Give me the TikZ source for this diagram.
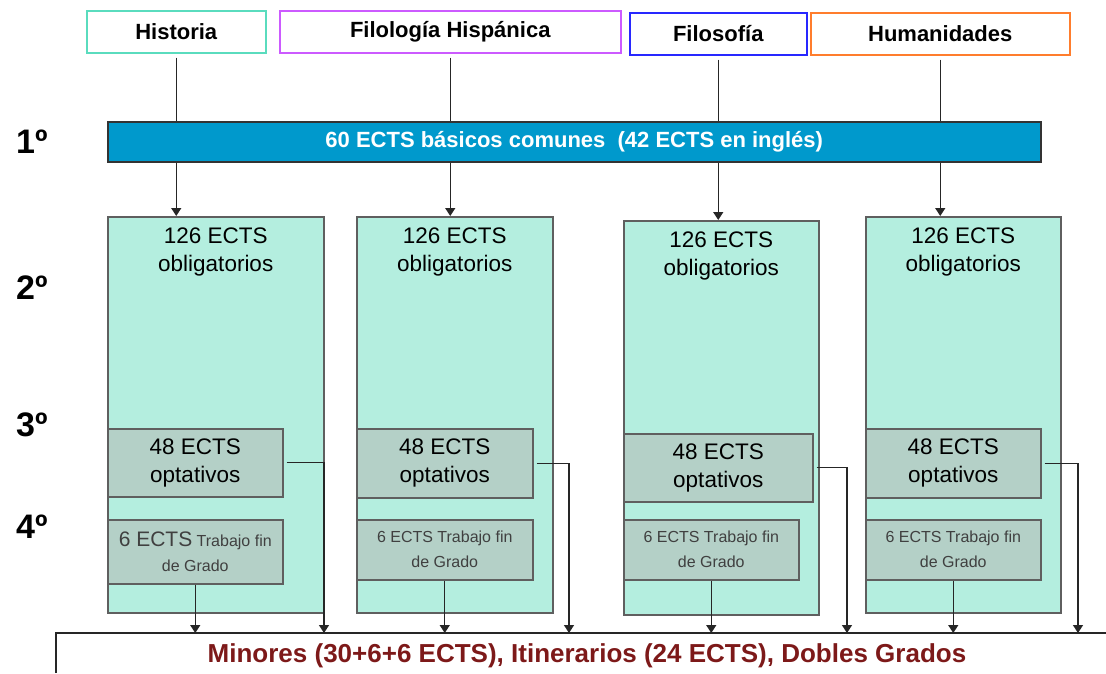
\documentclass[tikz,border=0pt]{standalone}
\usepackage{fontspec}
\setmainfont{Liberation Sans}
\usetikzlibrary{positioning}
\usetikzlibrary{arrows.meta}

\definecolor{barblue}{RGB}{0,153,204}
\definecolor{mint}{RGB}{180,238,223}
\definecolor{sage}{RGB}{180,208,199}
\definecolor{edgegray}{RGB}{95,95,95}
\definecolor{histline}{RGB}{90,220,190}
\definecolor{filolline}{RGB}{204,90,255}
\definecolor{filoline}{RGB}{40,40,255}
\definecolor{humline}{RGB}{255,125,45}
\definecolor{minred}{RGB}{125,25,25}

\begin{document}
\begin{tikzpicture}[x=1pt, y=-1pt,
  degree/.style={draw, line width=1.5pt, anchor=north west, inner sep=0pt, minimum height=42pt, font=\fontsize{22}{26}\selectfont\bfseries},
  year/.style={anchor=west, inner sep=0pt, font=\fontsize{34}{40}\selectfont\bfseries},
  column/.style={draw=edgegray, line width=1.5pt, fill=mint, anchor=north west, inner sep=0pt},
  oblig/.style={inner sep=0pt, align=center, font=\fontsize{22.5}{28}\selectfont},
  subject/.style={draw=edgegray, line width=1.5pt, fill=sage, anchor=north west, inner sep=0pt, align=center},
  optfont/.style={font=\fontsize{22.5}{28}\selectfont},
  tfgfont/.style={text=black!75, font=\fontsize{16}{25}\selectfont},
  link/.style={line width=1.4pt, color=black!85},
  arrow/.style={link, -{Triangle[length=8pt, width=10pt]}}
]
  \useasboundingbox (0,0) rectangle (1106,673);

  % degrees
  \node[degree, draw=histline, minimum width=179pt] (hist) at (86,10) {Historia};
  \node[degree, draw=filolline, minimum width=341pt] (filol) at (279,10) {Filología Hispánica};
  \node[degree, draw=filoline, minimum width=177pt] (filo) at (629,12) {Filosofía};
  \node[degree, draw=humline, minimum width=259pt] (hum) at (810,12) {Humanidades};

  % years
  \node[year] (y1) at (16,142) {1º};
  \node[year] (y2) at (16,288) {2º};
  \node[year] (y3) at (16,425) {3º};
  \node[year] (y4) at (16,527) {4º};

  \node[draw=black!80, line width=1.5pt, fill=barblue, anchor=north west, minimum width=933pt, minimum height=40pt,
    inner sep=0pt, text=white, font=\fontsize{22}{26}\selectfont\bfseries] (basic) at (107,121)
    {60 ECTS básicos comunes\ \ (42 ECTS en inglés)};

  % columns
  \node[column, minimum width=216pt, minimum height=396pt] (col1) at (107,216) {};
  \node[column, minimum width=196pt, minimum height=396pt] (col2) at (356,216) {};
  \node[column, minimum width=195pt, minimum height=394pt] (col3) at (623,220) {};
  \node[column, minimum width=195pt, minimum height=396pt] (col4) at (865,216) {};

  \node[oblig, below=12pt of col1.north] (ob1) {126 ECTS\\obligatorios};
  \node[oblig, below=12pt of col2.north] (ob2) {126 ECTS\\obligatorios};
  \node[oblig, below=12pt of col3.north] (ob3) {126 ECTS\\obligatorios};
  \node[oblig, below=12pt of col4.north] (ob4) {126 ECTS\\obligatorios};

  \node[subject, optfont, minimum width=175pt, minimum height=68pt] (opt1) at (107,428) {48 ECTS\\optativos};
  \node[subject, optfont, minimum width=176pt, minimum height=69pt] (opt2) at (356,428) {48 ECTS\\optativos};
  \node[subject, optfont, minimum width=189pt, minimum height=68pt] (opt3) at (623,433) {48 ECTS\\optativos};
  \node[subject, optfont, minimum width=175pt, minimum height=69pt] (opt4) at (865,428) {48 ECTS\\optativos};

  \node[subject, tfgfont, minimum width=175pt, minimum height=64pt] (tfg1) at (107,519)
    {{\fontsize{21}{25}\selectfont 6 ECTS} Trabajo fin\\de Grado};
  \node[subject, tfgfont, minimum width=176pt, minimum height=60pt] (tfg2) at (356,519) {6 ECTS Trabajo fin\\de Grado};
  \node[subject, tfgfont, minimum width=175pt, minimum height=60pt] (tfg3) at (623,519) {6 ECTS Trabajo fin\\de Grado};
  \node[subject, tfgfont, minimum width=175pt, minimum height=60pt] (tfg4) at (865,519) {6 ECTS Trabajo fin\\de Grado};

  % bottom line
  \coordinate (baseleft) at (56,633);
  \coordinate (baseright) at (1106,633);
  \draw[link] (baseleft |- 0,673) -- (baseleft) -- (baseright);

  \node[text=minred, inner sep=0pt, font=\fontsize{26}{30}\selectfont\bfseries] (options) at (587,656)
    {Minores (30+6+6 ECTS), Itinerarios (24 ECTS), Dobles Grados};

  % arrows
  \draw[link, shorten <=4pt] (hist.south) -- (hist.south |- basic.north);
  \draw[link, shorten <=4pt] (filol.south) -- (filol.south |- basic.north);
  \draw[link, shorten <=4pt] (filo.south) -- (filo.south |- basic.north);
  \draw[link, shorten <=4pt] (hum.south) -- (hum.south |- basic.north);

  \draw[arrow] (hist.south |- basic.south) -- (hist.south |- col1.north);
  \draw[arrow] (filol.south |- basic.south) -- (filol.south |- col2.north);
  \draw[arrow] (filo.south |- basic.south) -- (filo.south |- col3.north);
  \draw[arrow] (hum.south |- basic.south) -- (hum.south |- col4.north);

  \draw[arrow] (tfg1.south) -- (tfg1.south |- baseleft);
  \draw[arrow] (tfg2.south) -- (tfg2.south |- baseleft);
  \draw[arrow] (tfg3.south) -- (tfg3.south |- baseleft);
  \draw[arrow] (tfg4.south) -- (tfg4.south |- baseleft);

  \coordinate (drop1) at (324,633);
  \coordinate (drop2) at (569,633);
  \coordinate (drop3) at (847,633);
  \coordinate (drop4) at (1078,633);
  \draw[arrow, shorten <=3pt] (opt1.east) -| (drop1);
  \draw[arrow, shorten <=3pt] (opt2.east) -| (drop2);
  \draw[arrow, shorten <=3pt] (opt3.east) -| (drop3);
  \draw[arrow, shorten <=3pt] (opt4.east) -| (drop4);
\end{tikzpicture}
\end{document}
